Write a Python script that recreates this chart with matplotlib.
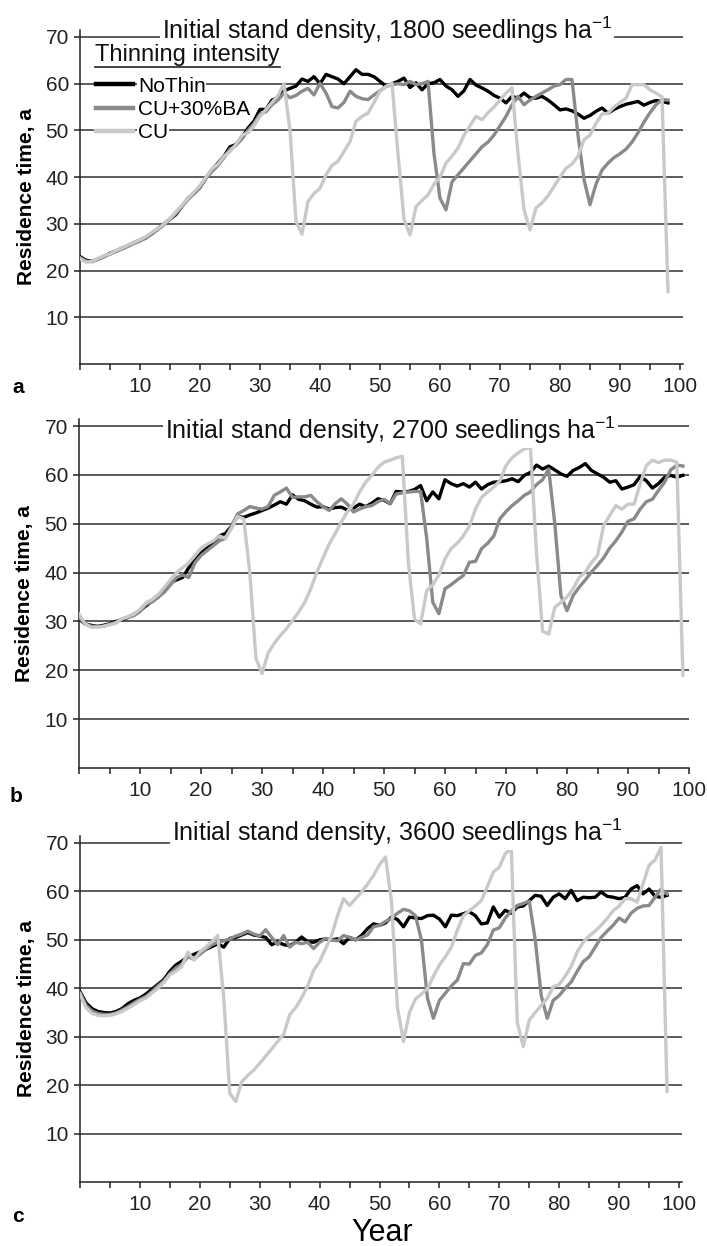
import matplotlib
matplotlib.use('Agg')
import matplotlib.pyplot as plt
from matplotlib.lines import Line2D
import matplotlib.transforms as mtransforms

plt.rcParams['font.family'] = 'Liberation Sans'
plt.rcParams['mathtext.fontset'] = 'custom'
plt.rcParams['mathtext.rm'] = 'Liberation Sans'
plt.rcParams['mathtext.it'] = 'Liberation Sans:italic'
plt.rcParams['mathtext.bf'] = 'Liberation Sans:bold'

# ---- data (residence time, a) ----
series_names = ['NoThin', 'CU+30%BA', 'CU']
series_colors = ['#000000', '#8a8a8a', '#c9c9c9']
densities = [1800, 2700, 3600]
panel_letters = ['a', 'b', 'c']

years_a = list(range(0, 99))
nothin_a = [23.0, 22.2, 22.0, 22.5, 23.0, 23.7, 24.2, 24.8, 25.3, 26.0,
            26.5, 27.0, 28.0, 29.0, 30.0, 31.0, 32.0, 33.8, 35.5, 36.5,
            37.8, 39.8, 41.5, 43.0, 44.5, 46.5, 47.0, 48.5, 50.5, 52.0,
            54.5, 54.5, 56.5, 57.0, 58.5, 59.0, 59.5, 61.0, 60.5, 61.5,
            60.0, 62.0, 61.5, 61.0, 60.0, 61.5, 63.0, 62.0, 62.0, 61.5,
            60.5, 59.5, 60.0, 60.5, 61.2, 59.2, 60.2, 58.7, 60.0, 60.2,
            60.9, 59.5, 58.7, 57.3, 58.5, 60.9, 59.7, 59.1, 58.4, 57.5,
            56.9, 55.9, 57.3, 56.9, 58.0, 57.0, 56.9, 57.3, 56.5, 55.5,
            54.4, 54.6, 54.2, 53.5, 52.6, 53.2, 54.1, 54.8, 53.7, 54.5,
            55.1, 55.6, 55.9, 56.2, 55.4, 56.0, 56.4, 56.2, 55.9]
cu30_a = [22.8, 22.0, 21.9, 22.4, 23.0, 23.5, 24.1, 24.6, 25.2, 25.8,
          26.3, 27.0, 27.8, 28.8, 29.8, 31.0, 32.2, 33.8, 35.2, 36.5,
          37.8, 39.8, 41.2, 42.5, 44.2, 46.0, 46.8, 48.2, 50.0, 51.5,
          53.5, 54.0, 55.5, 56.5, 58.0, 57.0, 57.5, 58.4, 59.0, 57.6,
          60.1, 58.0, 55.1, 54.8, 56.0, 58.4, 57.3, 56.8, 56.6, 57.6,
          58.5, 59.4, 59.8, 60.0, 59.8, 60.5, 59.8, 60.0, 60.5, 45.0,
          35.5, 33.0, 39.0, 40.5, 42.0, 43.5, 45.0, 46.5, 47.5, 49.0,
          51.0, 53.0, 55.5, 57.3, 55.5, 56.5, 57.3, 58.0, 58.7, 59.5,
          59.8, 60.9, 60.9, 49.0, 39.5, 34.1, 38.5, 41.5, 43.0, 44.2,
          45.0, 46.0, 47.5, 49.5, 51.8, 53.8, 55.5, 56.6, 56.5]
cu_a = [22.5, 21.8, 22.0, 22.6, 23.2, 23.6, 24.3, 24.8, 25.5, 26.0,
        26.6, 27.3, 28.2, 29.0, 30.0, 31.2, 32.6, 34.0, 35.5, 36.8,
        38.2, 40.0, 41.8, 42.8, 44.5, 45.5, 47.0, 49.0, 49.5, 51.0,
        53.0, 54.5, 56.0, 57.5, 60.0, 50.0, 30.5, 27.8, 34.8, 36.5,
        37.6, 40.5, 42.5, 43.4, 45.5, 47.6, 52.0, 53.0, 53.7, 56.0,
        58.4, 59.4, 60.1, 45.0, 31.0, 27.6, 33.7, 35.0, 36.2, 38.5,
        40.0, 43.0, 44.5, 46.2, 49.0, 51.0, 53.0, 52.3, 53.8, 55.0,
        56.5, 58.0, 59.1, 45.0, 33.0, 28.7, 33.4, 34.5, 36.0, 38.0,
        40.0, 41.9, 42.8, 44.5, 48.0, 49.0, 51.5, 53.5, 53.7, 55.0,
        56.0, 56.9, 59.8, 59.8, 59.8, 58.7, 58.0, 57.2, 15.5]

years_b = list(range(0, 100))
nothin_b = [30.5, 29.5, 29.2, 29.0, 29.2, 29.5, 30.0, 30.3, 30.8, 31.5,
            32.2, 33.2, 34.2, 35.0, 36.5, 38.0, 38.5, 39.0, 41.0, 42.5,
            44.0, 45.0, 46.0, 47.5, 48.0, 49.5, 51.5, 51.3, 51.8, 52.2,
            52.7, 53.2, 53.8, 54.5, 54.0, 55.9, 55.0, 54.7, 54.0, 53.4,
            53.5, 53.0, 53.3, 53.4, 52.8, 53.2, 54.0, 53.5, 54.2, 55.1,
            54.8, 54.1, 56.6, 56.5, 56.6, 57.0, 57.8, 54.7, 56.5, 55.1,
            59.0, 58.2, 57.7, 58.2, 57.5, 58.5, 57.1, 58.0, 58.5, 58.6,
            58.8, 59.2, 58.6, 59.9, 60.5, 62.0, 61.2, 61.8, 61.0, 60.2,
            59.7, 60.9, 61.5, 62.3, 60.9, 60.2, 59.5, 58.5, 58.8, 57.1,
            57.5, 58.0, 59.7, 58.8, 57.3, 58.2, 59.5, 59.9, 59.5, 59.9]
cu30_b = [30.8, 29.5, 29.0, 29.0, 29.0, 29.4, 29.8, 30.5, 30.8, 31.2,
          32.0, 33.5, 34.0, 35.0, 36.0, 37.5, 39.0, 39.5, 39.0, 42.0,
          43.5, 44.5, 45.5, 46.5, 47.0, 49.5, 52.0, 52.7, 53.5, 53.2,
          53.0, 53.5, 55.8, 56.5, 57.3, 55.4, 55.5, 55.5, 55.8, 54.5,
          53.5, 52.7, 54.1, 55.1, 54.0, 52.4, 53.0, 53.5, 53.7, 54.5,
          55.0, 54.1, 56.1, 56.3, 56.5, 56.6, 56.6, 47.0, 33.9, 31.6,
          36.7, 37.5, 38.5, 39.4, 42.1, 42.3, 44.9, 46.0, 47.5, 51.0,
          52.5, 53.7, 54.7, 55.8, 56.5, 58.0, 59.0, 61.2, 50.0, 35.3,
          32.2, 35.3, 37.0, 38.5, 40.1, 41.5, 43.0, 45.0, 46.5, 48.3,
          50.5, 51.0, 53.0, 54.5, 55.0, 56.8, 58.5, 61.0, 62.0, 61.8]
cu_b = [31.5, 29.5, 28.8, 28.8, 29.0, 29.3, 29.6, 30.5, 31.0, 31.5,
        32.5, 33.8, 34.5, 35.5, 37.0, 38.5, 40.0, 41.0, 42.0, 43.5,
        45.0, 45.8, 46.5, 47.5, 47.0, 49.0, 51.5, 51.0, 40.0, 22.5,
        19.3, 23.5, 25.5, 27.1, 28.5, 30.2, 31.9, 33.9, 36.7, 40.1,
        43.0, 45.8, 48.0, 50.3, 52.5, 54.0, 56.5, 58.5, 59.9, 61.5,
        62.6, 63.0, 63.5, 63.8, 42.0, 30.5, 29.5, 36.3, 37.5, 39.5,
        42.8, 44.9, 46.0, 47.5, 49.5, 53.0, 55.4, 56.5, 57.5, 58.8,
        61.9, 63.5, 64.5, 65.3, 65.7, 44.0, 28.0, 27.4, 32.9, 33.9,
        35.0, 36.7, 39.0, 40.1, 42.0, 43.5, 49.6, 51.7, 53.7, 53.0,
        54.0, 54.0, 58.2, 61.9, 63.0, 62.5, 63.0, 63.0, 62.6, 19.0]

years_c = list(range(0, 99))
nothin_c = [39.3, 37.0, 35.8, 35.2, 35.0, 34.9, 35.2, 35.8, 36.8, 37.5,
            38.0, 38.8, 39.8, 40.8, 41.8, 43.5, 44.8, 45.6, 46.5, 47.0,
            47.5, 48.0, 48.6, 49.2, 48.5, 50.3, 50.5, 51.0, 51.5, 51.0,
            50.8, 50.5, 49.0, 49.6, 49.0, 48.8, 49.5, 50.6, 49.6, 49.5,
            50.0, 50.2, 50.0, 50.2, 49.2, 50.5, 50.0, 50.9, 52.3, 53.3,
            53.0, 53.5, 54.7, 54.2, 52.7, 54.7, 54.5, 54.4, 55.0, 55.1,
            54.3, 52.7, 55.1, 55.0, 55.4, 55.8, 55.0, 53.3, 53.5, 56.8,
            54.7, 56.1, 55.5, 56.8, 57.0, 58.1, 59.2, 59.0, 57.1, 58.8,
            59.5, 58.5, 60.2, 58.1, 58.8, 58.7, 58.8, 59.9, 59.0, 58.8,
            58.5, 58.8, 60.5, 61.2, 59.5, 60.5, 59.0, 58.8, 59.2]
cu30_c = [39.0, 36.5, 35.3, 34.8, 34.6, 34.6, 34.9, 35.5, 36.2, 37.0,
          37.7, 38.3, 39.3, 40.5, 41.5, 43.0, 44.2, 45.0, 46.5, 46.0,
          47.0, 48.0, 49.0, 49.5, 49.8, 50.2, 50.8, 51.2, 51.8, 51.2,
          50.8, 52.1, 50.5, 49.0, 50.9, 48.5, 49.5, 49.2, 49.5, 48.2,
          49.5, 50.3, 50.0, 49.8, 50.9, 50.5, 50.0, 50.5, 51.0, 52.7,
          53.0, 53.8, 54.4, 55.5, 56.3, 56.0, 55.0, 50.0, 38.0, 33.8,
          37.5, 39.0, 40.5, 41.7, 45.1, 45.0, 46.8, 47.3, 49.0, 52.0,
          52.5, 54.5, 56.0, 57.1, 57.5, 58.0, 50.0, 38.5, 33.8, 37.5,
          38.5, 40.0, 41.3, 43.5, 45.5, 46.5, 48.5, 50.5, 51.8, 53.0,
          54.5, 53.7, 55.5, 56.5, 57.0, 57.1, 58.8, 60.5, 59.5]
cu_c = [38.8, 36.0, 34.8, 34.4, 34.3, 34.4, 34.7, 35.2, 35.9, 36.6,
        37.4, 38.0, 39.0, 40.0, 41.2, 42.8, 43.5, 44.5, 47.5, 45.8,
        47.5, 48.5, 49.6, 50.9, 38.0, 18.3, 16.6, 20.7, 22.0, 23.1,
        24.5, 26.0, 27.5, 29.0, 30.5, 34.5, 36.0, 38.0, 40.5, 43.7,
        45.5, 48.2, 50.9, 55.0, 58.5, 57.1, 58.5, 59.9, 61.5, 63.3,
        65.5, 67.1, 58.0, 36.0, 29.0, 35.0, 37.8, 38.8, 39.9, 42.5,
        44.8, 46.5, 48.5, 52.0, 55.0, 56.0, 57.0, 58.1, 61.0, 64.0,
        65.0, 67.8, 68.8, 33.0, 28.0, 33.4, 35.0, 36.5, 37.9, 40.3,
        40.8, 42.5, 44.5, 47.5, 49.5, 50.8, 51.8, 53.0, 54.4, 56.0,
        57.0, 58.5, 58.5, 57.8, 61.6, 65.4, 66.5, 69.1, 18.7]

panel_years = [years_a, years_b, years_c]
panel_series = [[nothin_a, cu30_a, cu_a],
                [nothin_b, cu30_b, cu_b],
                [nothin_c, cu30_c, cu_c]]

# ---- layout (pixels of the 707x1246 figure) ----
W, H = 707, 1246
# left, right, y of 70, y of 0
boxes = [(80, 683, 37, 364), (79, 689, 426, 768), (80, 682, 843, 1182)]
xmax = [100.5, 100.0, 100.5]
title_x = [0.509, 0.511, 0.527]
title_y = [69.6, 67.3, 70.4]
letter_pos = [(18, 387), (16, 797), (18, 1217)]

fig = plt.figure(figsize=(W / 100, H / 100), dpi=100)

for i in range(3):
    l, r, y70, y0 = boxes[i]
    ppu = (y0 - y70) / 70.0
    top = y70 - 1.5 * ppu
    ax = fig.add_axes([l / W, 1 - y0 / H, (r - l) / W, (y0 - top) / H])

    for vals, name, col in zip(panel_series[i], series_names, series_colors):
        ax.plot(panel_years[i][:len(vals)], vals, color=col, lw=2.4,
                label=name, solid_joinstyle='round', zorder=3)

    ax.set_xlim(0, xmax[i])
    ax.set_ylim(0, 71.5)
    ax.set_xticks(list(range(0, 101, 5)))
    ax.set_xticklabels([str(v) if v % 10 == 0 and v > 0 else '' for v in range(0, 101, 5)])
    ax.set_yticks(list(range(10, 71, 10)))
    ax.tick_params(axis='x', direction='out', length=4, width=1.1, pad=5,
                   labelsize=15, colors='#222222')
    ax.tick_params(axis='y', direction='out', length=4, width=1.1, pad=4,
                   labelsize=15, colors='#222222')
    ax.yaxis.grid(True, color='#303030', lw=1.1)
    ax.set_axisbelow(True)
    for s in ['top', 'right']:
        ax.spines[s].set_visible(False)
    for s in ['left', 'bottom']:
        ax.spines[s].set_color('#222222')
        ax.spines[s].set_linewidth(1.1)

    ax.set_ylabel('Residence time, a', fontsize=15, fontweight='bold')
    ax.yaxis.set_label_coords(-0.073, 0.5)

    trans = mtransforms.blended_transform_factory(ax.transAxes, ax.transData)
    ax.text(title_x[i], title_y[i],
            'Initial stand density, %d seedlings ha$^{-1}$' % densities[i],
            transform=trans, ha='center', va='baseline', fontsize=18,
            color='#111111', zorder=5,
            bbox=dict(facecolor='white', edgecolor='none', pad=1.5))

    fig.text(letter_pos[i][0] / W, 1 - letter_pos[i][1] / H, panel_letters[i],
             fontsize=15, fontweight='bold', ha='center', va='center')

    if i == 0:
        handles = [Line2D([], [], color=c, lw=3.2) for c in series_colors]
        leg = ax.legend(handles, series_names,
                        loc='upper left', bbox_to_anchor=(0.027, 0.860),
                        frameon=False, fontsize=15,
                        handlelength=1.75, handletextpad=0.25, labelspacing=0.2,
                        borderpad=0, borderaxespad=0)
        for t in leg.get_texts():
            t.set_bbox(dict(facecolor='white', edgecolor='none', pad=0.5))
        leg.set_zorder(6)
        leg_title = ax.text(0.025, 0.926, 'Thinning intensity', transform=ax.transAxes,
                            ha='left', va='center', fontsize=17, color='#111111',
                            zorder=6)

fig.text(382 / W, 1 - 1233 / H, 'Year', fontsize=22, ha='center', va='center')

# underline the legend title
fig.canvas.draw()
renderer = fig.canvas.get_renderer()
bb = leg_title.get_window_extent(renderer)
inv = fig.transFigure.inverted()
(x0, y0f), (x1, _) = inv.transform([(bb.x0, bb.y0 - 1), (bb.x1, bb.y0 - 1)])
fig.add_artist(Line2D([x0, x1], [y0f, y0f], transform=fig.transFigure,
                      color='#222222', lw=1.2))

fig.savefig('out.png', dpi=100)
